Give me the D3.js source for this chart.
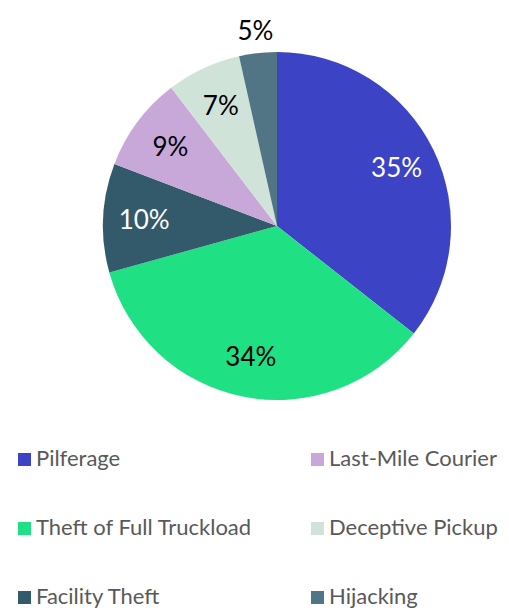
<!DOCTYPE html>
<html>
<head>
<meta charset="utf-8">
<script src="https://cdn.jsdelivr.net/npm/d3@7"></script>
<style>
  body { margin: 0; background: #fff; }
  svg { font-family: Lato, "Open Sans", sans-serif; display: block; }
</style>
</head>
<body>
<svg id="chart" width="509" height="608"></svg>
<script>
"use strict";

// categories, slice sizes and printed labels
const categories = ["Pilferage", "Theft of Full Truckload", "Facility Theft",
                    "Last-Mile Courier", "Deceptive Pickup", "Hijacking"];
const values = [35.6, 35.1, 10.1, 8.8, 6.9, 3.5];
const labels = ["35%", "34%", "10%", "9%", "7%", "5%"];
const colors = ["#3c43c5", "#1fe184", "#335a6a", "#c8a8d8", "#d0e3d9", "#517585"];
const labelColors = ["#fff", "#000", "#fff", "#000", "#000", "#000"];

const data = categories.map((c, i) => ({cat: c, value: values[i], label: labels[i], i}));

const svg = d3.select("#chart");
const cx = 277, cy = 226, R = 174;

const g = svg.append("g").attr("transform", `translate(${cx},${cy})`);

const pie = d3.pie().sort(null).value(d => d.value);
const arc = d3.arc().innerRadius(0).outerRadius(R);
const arcs = pie(data);

g.selectAll("path").data(arcs).enter().append("path")
  .attr("d", arc)
  .attr("fill", d => colors[d.data.i]);

// labels: inside for big slices, outside for the thin one
const inner = d3.arc().innerRadius(133).outerRadius(133);
const outer = d3.arc().innerRadius(196).outerRadius(196);
g.selectAll("text.lbl").data(arcs).enter().append("text")
  .attr("class", "lbl")
  .attr("transform", d => `translate(${(d.data.value < 5 ? outer : inner).centroid(d)})`)
  .attr("text-anchor", "middle")
  .attr("dy", "0.35em")
  .style("font-size", "26px")
  .attr("fill", d => labelColors[d.data.i])
  .text(d => d.data.label);

// legend: two columns, three rows
const leg = svg.append("g");
const colX = [18, 311], rowY = [466, 535, 604];
data.forEach((d, i) => {
  const col = Math.floor(i / 3), row = i % 3;
  const item = leg.append("g").attr("transform", `translate(${colX[col]},${rowY[row]})`);
  item.append("rect").attr("x", 0).attr("y", -13).attr("width", 13).attr("height", 13)
    .attr("fill", colors[i]);
  item.append("text").attr("x", 18).attr("y", 0)
    .style("font-size", "22px").attr("fill", "#595959")
    .text(d.cat);
});
</script>
</body>
</html>
